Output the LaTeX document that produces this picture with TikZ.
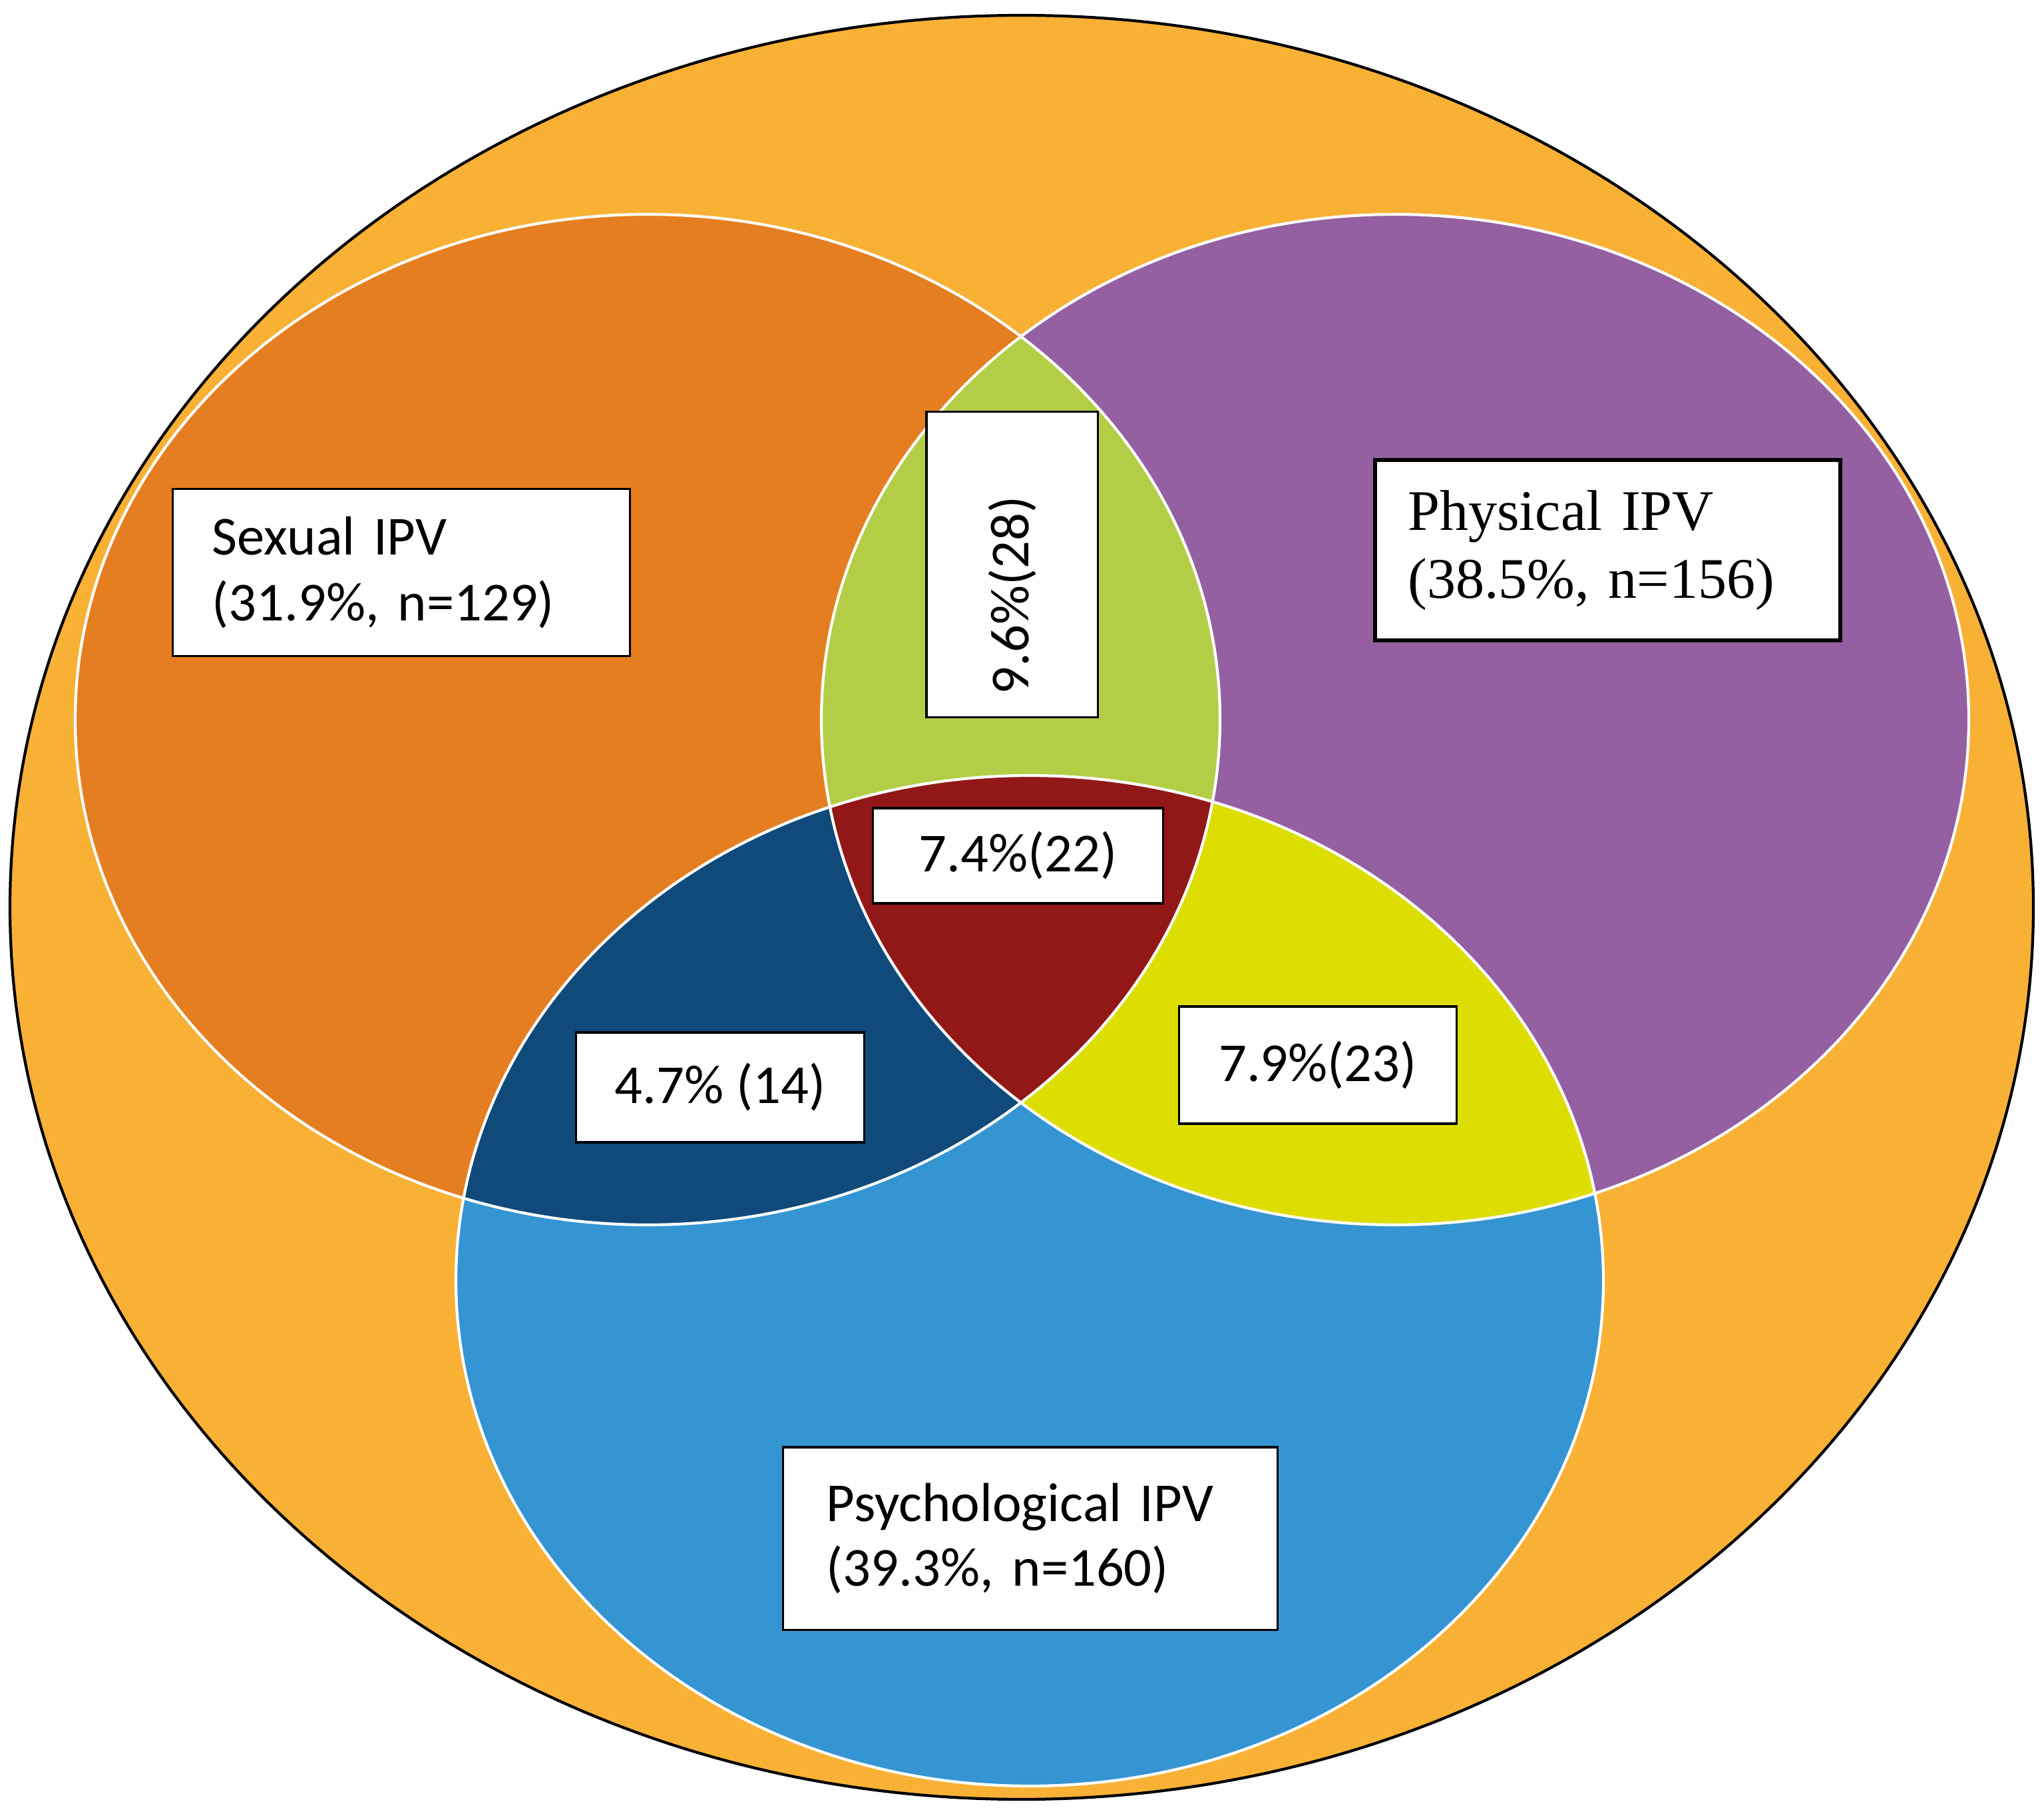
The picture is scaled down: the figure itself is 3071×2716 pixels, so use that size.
\documentclass[tikz,border=0pt]{standalone}
\usepackage{fontspec}
\setmainfont{Carlito}
\newfontfamily\serifface{Liberation Serif}

\definecolor{outerfill}{RGB}{248,177,52}
\definecolor{sexualfill}{RGB}{229,126,32}
\definecolor{physicalfill}{RGB}{148,96,162}
\definecolor{psychfill}{RGB}{53,148,210}
\definecolor{sexphysfill}{RGB}{179,206,70}
\definecolor{sexpsychfill}{RGB}{15,74,122}
\definecolor{physpsychfill}{RGB}{221,221,0}
\definecolor{allfill}{RGB}{146,24,24}

\newcommand\sexualset{(973,1081) ellipse [x radius=860, y radius=759]}
\newcommand\physicalset{(2096,1081) ellipse [x radius=862, y radius=759]}
\newcommand\psychset{(1547,1924) ellipse [x radius=862, y radius=759]}

\begin{document}
\begin{tikzpicture}[x=0.01cm, y=-0.01cm,
        setline/.style={white, line width=1.2pt},
        valbox/.style={draw, fill=white, line width=0.9pt, inner sep=0pt, font=\fontsize{23.5}{28}\selectfont},
        namebox/.style={valbox, align=left}]
    \useasboundingbox (0,0) rectangle (3071,2716);
    \filldraw[fill=outerfill, draw=black, line width=1.2pt] (1535,1363) ellipse [x radius=1520, y radius=1340];

    \fill[sexualfill] \sexualset;
    \fill[physicalfill] \physicalset;
    \fill[psychfill] \psychset;
    \begin{scope}
        \clip \sexualset;
        \fill[sexphysfill] \physicalset;
        \fill[sexpsychfill] \psychset;
    \end{scope}
    \begin{scope}
        \clip \physicalset;
        \fill[physpsychfill] \psychset;
        \clip \sexualset;
        \fill[allfill] \psychset;
    \end{scope}
    \draw[setline] \sexualset;
    \draw[setline] \physicalset;
    \draw[setline] \psychset;

    \node[namebox, text width=5.68cm, inner xsep=0.59cm, minimum height=2.51cm] (sexual) at (603,860) {Sexual IPV\\(31.9\%, n=129)};
    \node[namebox, line width=1.8pt, font=\serifface\fontsize{24.5}{29}\selectfont, text width=6.0cm, inner xsep=0.495cm, minimum height=2.71cm] (physical) at (2415.5,826.5) {Physical IPV\\(38.5\%, n=156)};
    \node[namebox, font=\fontsize{23.5}{27.5}\selectfont, text width=6.12cm, inner xsep=0.65cm, minimum height=2.74cm] (psych) at (1548,2311) {Psychological IPV\\(39.3\%, n=160)};

    \node[valbox, rotate=90, align=left, text width=3.9cm, inner xsep=0.34cm, minimum height=2.57cm] (sexphys) at (1520.5,848) {9.6\%(28)};
    \node[valbox, minimum width=4.35cm, minimum height=1.43cm] (allthree) at (1529.5,1285.5) {7.4\%(22)};
    \node[valbox, minimum width=4.32cm, minimum height=1.65cm] (sexpsych) at (1082,1633.5) {4.7\% (14)};
    \node[valbox, minimum width=4.16cm, minimum height=1.76cm] (physpsych) at (1980,1600) {7.9\%(23)};
\end{tikzpicture}
\end{document}
